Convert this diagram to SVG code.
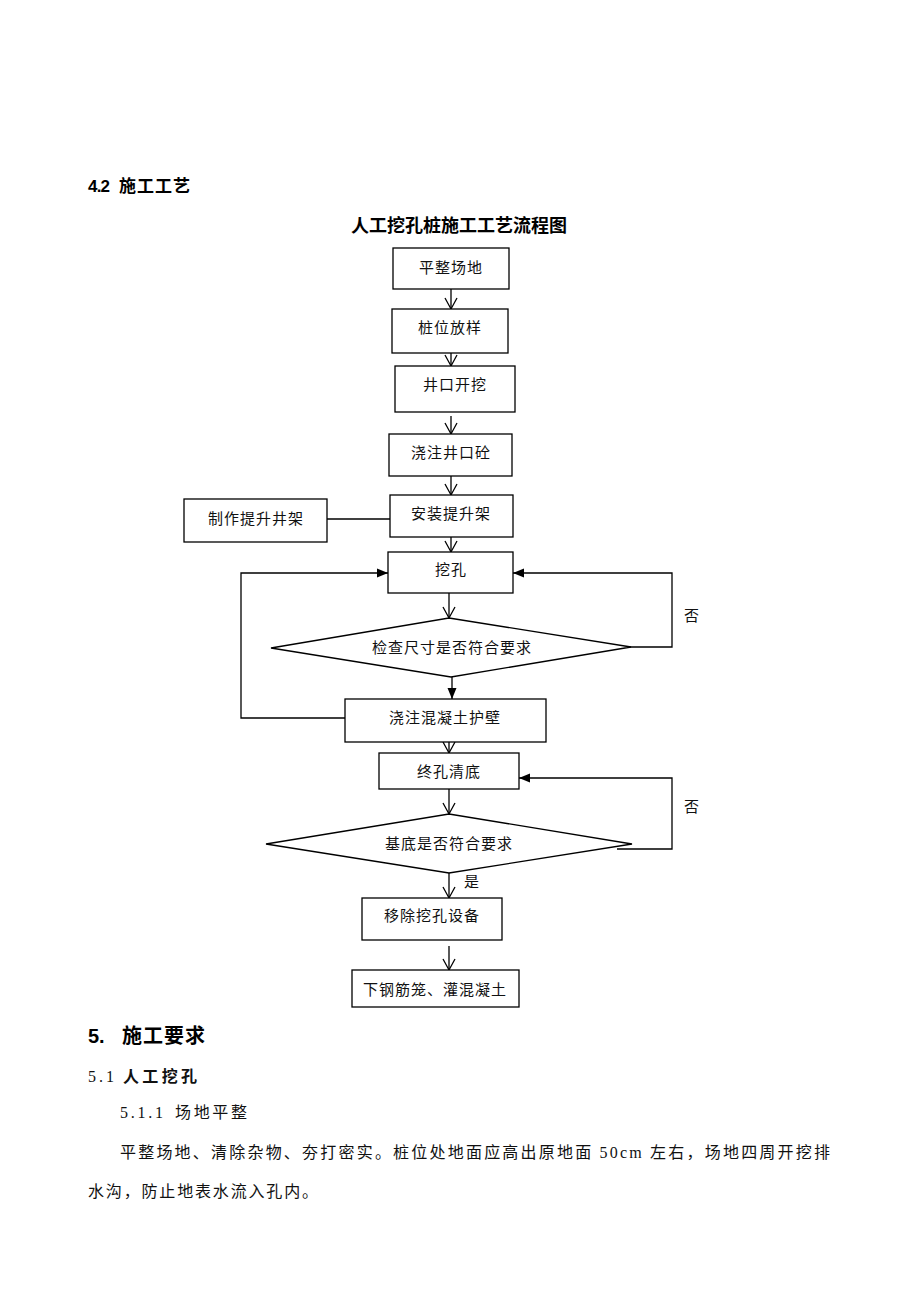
<svg xmlns="http://www.w3.org/2000/svg" width="920" height="1302" viewBox="0 0 920 1302">
<style>
.bg{fill:#fff}
.box{fill:#fff;stroke:#000;stroke-width:1.3}
.dia{fill:#fff;stroke:#000;stroke-width:1.3}
.ln{fill:none;stroke:#000;stroke-width:1.3}
.t{font-family:"Liberation Serif","Noto Sans CJK SC",serif;font-size:15px;fill:#111;text-anchor:middle;dominant-baseline:central;letter-spacing:1px}
.h{font-family:"Liberation Sans","Noto Sans CJK SC",sans-serif;font-weight:bold;fill:#000}
.p{font-family:"Liberation Serif","Noto Sans CJK SC",serif;font-size:16px;fill:#111}
</style>
<defs>
<marker id="open" markerUnits="userSpaceOnUse" markerWidth="14" markerHeight="14" viewBox="0 0 14 14" refX="12" refY="7" orient="auto">
<path d="M1,1 L12,7 L1,13" fill="none" stroke="#000" stroke-width="1.3"/>
</marker>
<marker id="fill" markerUnits="userSpaceOnUse" markerWidth="12" markerHeight="12" viewBox="0 0 12 12" refX="11" refY="6" orient="auto">
<path d="M0,1.5 L11,6 L0,10.5 Z" fill="#000"/>
</marker>
</defs>
<rect class="bg" x="0" y="0" width="920" height="1302"/>

<text class="h" x="88" y="192" font-size="17" textLength="22" lengthAdjust="spacing">4.2</text>
<text class="h" x="119" y="192" font-size="17" textLength="71" lengthAdjust="spacing">施工工艺</text>
<text class="h" x="459" y="232" font-size="18" text-anchor="middle">人工挖孔桩施工工艺流程图</text>

<g id="connectors">
<line class="ln" x1="451" y1="289" x2="451" y2="309" marker-end="url(#open)"/>
<line class="ln" x1="451" y1="353" x2="451" y2="366" marker-end="url(#open)"/>
<line class="ln" x1="451" y1="416" x2="451" y2="434" marker-end="url(#open)"/>
<line class="ln" x1="451" y1="476" x2="451" y2="495" marker-end="url(#open)"/>
<line class="ln" x1="451" y1="537" x2="451" y2="552" marker-end="url(#open)"/>
<line class="ln" x1="327" y1="519" x2="390" y2="519"/>
<line class="ln" x1="449" y1="593" x2="449" y2="618" marker-end="url(#open)"/>
<line class="ln" x1="452" y1="677" x2="452" y2="699" marker-end="url(#fill)"/>
<polyline class="ln" points="345,718 241,718 241,573 388,573" marker-end="url(#fill)"/>
<polyline class="ln" points="630,647 672,647 672,573 513,573" marker-end="url(#fill)"/>
<line class="ln" x1="449" y1="742" x2="449" y2="753" marker-end="url(#open)"/>
<line class="ln" x1="449" y1="789" x2="449" y2="814" marker-end="url(#open)"/>
<polyline class="ln" points="617,849 672,849 672,778 519,778" marker-end="url(#fill)"/>
<line class="ln" x1="449" y1="873" x2="449" y2="898" marker-end="url(#open)"/>
<line class="ln" x1="449" y1="946" x2="449" y2="970" marker-end="url(#open)"/>
<text class="t" x="692" y="616">否</text>
<text class="t" x="692" y="807">否</text>
<text class="t" x="472" y="882">是</text>
</g>

<g id="n1"><rect class="box" x="393" y="248" width="116" height="41"/><text class="t" x="451" y="268">平整场地</text></g>
<g id="n2"><rect class="box" x="392" y="309" width="116" height="44"/><text class="t" x="450" y="328">桩位放样</text></g>
<g id="n3"><rect class="box" x="395" y="366" width="120" height="46"/><text class="t" x="455" y="385">井口开挖</text></g>
<g id="n4"><rect class="box" x="389" y="434" width="123" height="42"/><text class="t" x="451" y="453">浇注井口砼</text></g>
<g id="n5"><rect class="box" x="390" y="495" width="123" height="42"/><text class="t" x="451" y="514">安装提升架</text></g>
<g id="n5b"><rect class="box" x="184" y="499" width="143" height="43"/><text class="t" x="256" y="519">制作提升井架</text></g>
<g id="n6"><rect class="box" x="388" y="552" width="125" height="41"/><text class="t" x="451" y="570">挖孔</text></g>
<g id="d1"><polygon class="dia" points="449,618 631,647 451,677 271,648"/><text class="t" x="452" y="648">检查尺寸是否符合要求</text></g>
<g id="n7"><rect class="box" x="345" y="699" width="201" height="43"/><text class="t" x="445" y="718">浇注混凝土护壁</text></g>
<g id="n8"><rect class="box" x="379" y="753" width="140" height="36"/><text class="t" x="449" y="772">终孔清底</text></g>
<g id="d2"><polygon class="dia" points="449,814 632,844 449,873 266,844"/><text class="t" x="449" y="844">基底是否符合要求</text></g>
<g id="n9"><rect class="box" x="362" y="898" width="140" height="42"/><text class="t" x="432" y="916">移除挖孔设备</text></g>
<g id="n10"><rect class="box" x="352" y="970" width="167" height="37"/><text class="t" x="435" y="990">下钢筋笼、灌混凝土</text></g>

<text class="h" x="88" y="1043" font-size="20">5.</text>
<text class="h" x="122" y="1043" font-size="20" textLength="83" lengthAdjust="spacing">施工要求</text>
<text class="p" x="88" y="1082" font-size="18" textLength="26" lengthAdjust="spacing">5.1</text>
<text class="p" x="123" y="1082" font-size="18" font-weight="bold" textLength="74" lengthAdjust="spacing">人工挖孔</text>
<text class="p" x="120" y="1118" font-size="17" textLength="43" lengthAdjust="spacing">5.1.1</text>
<text class="p" x="175" y="1118" font-size="17" textLength="72" lengthAdjust="spacing">场地平整</text>
<text class="p" x="120" y="1158" textLength="710" lengthAdjust="spacing">平整场地、清除杂物、夯打密实。桩位处地面应高出原地面 50cm 左右，场地四周开挖排</text>
<text class="p" x="88" y="1197" textLength="230" lengthAdjust="spacing">水沟，防止地表水流入孔内。</text>
</svg>
